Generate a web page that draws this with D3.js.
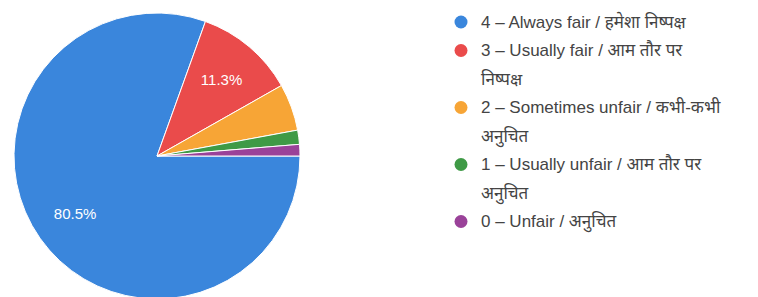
<!DOCTYPE html>
<html>
<head>
<meta charset="utf-8">
<script src="https://cdn.jsdelivr.net/npm/d3@7"></script>
<style>
  html, body { margin: 0; padding: 0; background: #ffffff; }
  svg { display: block; }
</style>
</head>
<body>
<svg id="chart" width="758" height="297"></svg>
<script>
// ---- data ----
const categories = [
  ["4 – Always fair / हमेशा निष्पक्ष"],
  ["3 – Usually fair / आम तौर पर", "निष्पक्ष"],
  ["2 – Sometimes unfair / कभी-कभी", "अनुचित"],
  ["1 – Usually unfair / आम तौर पर", "अनुचित"],
  ["0 – Unfair / अनुचित"]
];
const values = [80.5, 11.3, 5.3, 1.6, 1.3];
const colors = ["#3a86dc", "#ea4b4b", "#f7a536", "#3f9a46", "#9a4299"];

// ---- layout ----
const svg = d3.select("#chart");
const cx = 157, cy = 156, R = 143;

const pie = d3.pie().sort(null).value(d => d)
  .startAngle(Math.PI / 2).endAngle(Math.PI / 2 + 2 * Math.PI);
const arcs = pie(values);
const arc = d3.arc().innerRadius(0).outerRadius(R);
const labelArc = d3.arc().innerRadius(R * 0.7).outerRadius(R * 0.7);

const g = svg.append("g").attr("transform", `translate(${cx},${cy})`);
g.selectAll("path").data(arcs).enter().append("path")
  .attr("d", arc)
  .attr("fill", (d, i) => colors[i])
  .attr("stroke", "#ffffff")
  .attr("stroke-width", 1);

g.selectAll("text.pct").data(arcs.filter(d => d.data >= 10)).enter().append("text")
  .attr("class", "pct")
  .attr("transform", d => `translate(${labelArc.centroid(d)})`)
  .attr("text-anchor", "middle")
  .attr("dy", "0.35em")
  .attr("fill", "#ffffff")
  .attr("font-family", "Arial, 'Liberation Sans', sans-serif")
  .attr("font-size", 15)
  .text(d => d.data.toFixed(1) + "%");

// ---- legend ----
const lx = 461, ly0 = 22, lineH = 28.5;
let y = ly0;
const leg = svg.append("g");
categories.forEach((lines, i) => {
  const item = leg.append("g").attr("transform", `translate(${lx},${y})`);
  item.append("circle").attr("r", 6.5).attr("fill", colors[i]);
  const t = item.append("text")
    .attr("x", 20)
    .attr("font-family", "Arial, 'Liberation Sans', 'Noto Sans', sans-serif")
    .attr("font-size", 17)
    .attr("fill", "#444444");
  lines.forEach((ln, j) => {
    t.append("tspan").attr("x", 20).attr("y", j * lineH).attr("dy", "0.35em").text(ln);
  });
  y += lines.length * lineH;
});
</script>
</body>
</html>
